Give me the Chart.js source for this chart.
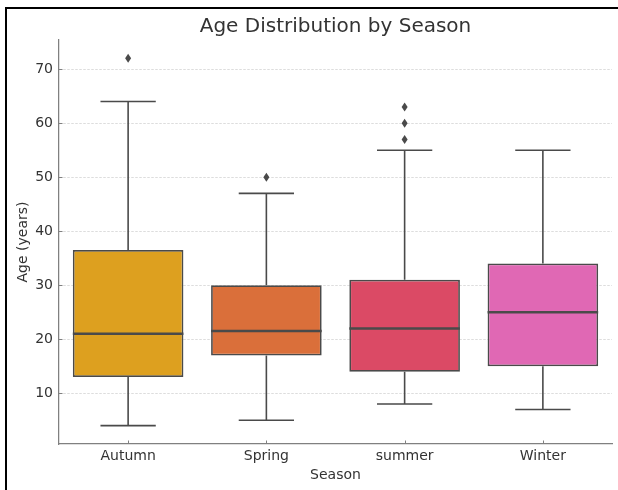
<!DOCTYPE html>
<html>
<head>
<meta charset="utf-8">
<script src="https://cdn.jsdelivr.net/npm/chart.js@4.4.1/dist/chart.umd.min.js"></script>
<style>
  html, body { margin: 0; background: #fff; overflow: hidden; }
  #wrap { position: relative; width: 618px; height: 490px; }
  #frame {
    position: absolute; left: 5px; top: 7px; width: 611px; height: 483px;
    border-left: 2px solid #000; border-top: 2px solid #000; pointer-events: none;
  }
</style>
</head>
<body>
<div id="wrap">
  <canvas id="boxChart"></canvas>
  <div id="frame"></div>
</div>
<script>
// Dados do box plot
const seasons = ['Autumn', 'Spring', 'summer', 'Winter'];
const whiskerLow = [4, 5, 8, 7];
const q1 = [13, 17, 14, 15];
const medians = [21, 21.5, 22, 25];
const q3 = [36.5, 30, 31, 34];
const whiskerHigh = [64, 47, 55, 55];
const outliers = [[72], [50], [57, 60, 63], []];
const yTicks = [10, 20, 30, 40, 50, 60, 70];
const boxColors = ['#DDA01F', '#DA6F3A', '#DB4A65', '#E068B4'];

const edgeColor = '#4a4a4a';
const chartTitle = 'Age Distribution by Season';

// Desenha bigodes, medianas, outliers, ticks internos e o título
const boxPlotPlugin = {
  id: 'boxPlot',
  afterDatasetsDraw(chart) {
    const ctx = chart.ctx;
    const x = chart.scales.x;
    const y = chart.scales.y;
    const meta = chart.getDatasetMeta(0);
    const area = chart.chartArea;
    ctx.save();
    ctx.strokeStyle = edgeColor;
    ctx.lineCap = 'butt';
    seasons.forEach((s, i) => {
      const cx = x.getPixelForValue(i);
      const bar = meta.data[i];
      const halfBox = bar.width / 2;
      const halfCap = halfBox / 2;
      ctx.lineWidth = 1.6;
      ctx.beginPath();
      ctx.moveTo(cx, y.getPixelForValue(q3[i]));
      ctx.lineTo(cx, y.getPixelForValue(whiskerHigh[i]));
      ctx.moveTo(cx, y.getPixelForValue(q1[i]));
      ctx.lineTo(cx, y.getPixelForValue(whiskerLow[i]));
      ctx.moveTo(cx - halfCap, y.getPixelForValue(whiskerHigh[i]));
      ctx.lineTo(cx + halfCap, y.getPixelForValue(whiskerHigh[i]));
      ctx.moveTo(cx - halfCap, y.getPixelForValue(whiskerLow[i]));
      ctx.lineTo(cx + halfCap, y.getPixelForValue(whiskerLow[i]));
      ctx.stroke();
      // mediana
      ctx.lineWidth = 2.5;
      ctx.beginPath();
      ctx.moveTo(cx - halfBox, y.getPixelForValue(medians[i]));
      ctx.lineTo(cx + halfBox, y.getPixelForValue(medians[i]));
      ctx.stroke();
      // outliers em forma de losango
      ctx.fillStyle = edgeColor;
      outliers[i].forEach(v => {
        const py = y.getPixelForValue(v);
        ctx.beginPath();
        ctx.moveTo(cx, py - 4.5);
        ctx.lineTo(cx + 3, py);
        ctx.lineTo(cx, py + 4.5);
        ctx.lineTo(cx - 3, py);
        ctx.closePath();
        ctx.fill();
      });
    });
    // ticks apontando para dentro
    ctx.strokeStyle = '#808080';
    ctx.lineWidth = 1;
    ctx.beginPath();
    yTicks.forEach(v => {
      const py = Math.round(y.getPixelForValue(v)) + 0.5;
      ctx.moveTo(area.left, py);
      ctx.lineTo(area.left + 3.5, py);
    });
    seasons.forEach((s, i) => {
      const px = Math.round(x.getPixelForValue(i)) + 0.5;
      ctx.moveTo(px, area.bottom);
      ctx.lineTo(px, area.bottom - 3.5);
    });
    ctx.stroke();
    // título centrado sobre a área do gráfico
    ctx.fillStyle = '#333';
    ctx.font = '20px "DejaVu Sans"';
    ctx.textAlign = 'center';
    ctx.textBaseline = 'alphabetic';
    ctx.fillText(chartTitle, (area.left + area.right) / 2, 31.5);
    ctx.restore();
  }
};

document.addEventListener('DOMContentLoaded', function() {
  const ctx = document.getElementById('boxChart');
  new Chart(ctx.getContext('2d'), {
    type: 'bar',
    data: {
      labels: seasons,
      datasets: [{
        label: 'Age',
        data: seasons.map((s, i) => [q1[i], q3[i]]),
        backgroundColor: boxColors,
        borderColor: edgeColor,
        borderWidth: 1.75,
        borderSkipped: false,
        barPercentage: 0.8,
        categoryPercentage: 1.0
      }]
    },
    options: {
      responsive: true,
      maintainAspectRatio: false,
      animation: false,
      layout: { padding: { left: 0, right: 6, top: 40, bottom: 0 } },
      plugins: {
        legend: { display: false },
        tooltip: { enabled: false },
        title: { display: false }
      },
      scales: {
        x: {
          grid: { display: false, drawTicks: false },
          border: { display: true, color: '#808080', width: 1.25 },
          ticks: { color: '#333', padding: 4, font: { family: 'DejaVu Sans', size: 14 } },
          title: {
            display: true, text: 'Season', color: '#333',
            font: { family: 'DejaVu Sans', size: 14 },
            padding: { top: 0, bottom: 6 }
          },
          afterFit: s => { s.height = 46; }
        },
        y: {
          min: 0.6,
          max: 75.4,
          afterBuildTicks: s => { s.ticks = yTicks.map(v => ({ value: v })); },
          grid: { color: '#d4d4d4', lineWidth: 0.8, drawTicks: false },
          border: { display: true, color: '#808080', width: 1.25, dash: [2.5, 1.5] },
          ticks: { color: '#333', padding: 6, font: { family: 'DejaVu Sans', size: 14 } },
          title: {
            display: true, text: 'Age (years)', color: '#333',
            font: { family: 'DejaVu Sans', size: 14 },
            padding: { top: 15, bottom: 0 }
          },
          afterFit: s => { s.width = 59; }
        }
      }
    },
    plugins: [boxPlotPlugin]
  });
});
</script>
</body>
</html>
